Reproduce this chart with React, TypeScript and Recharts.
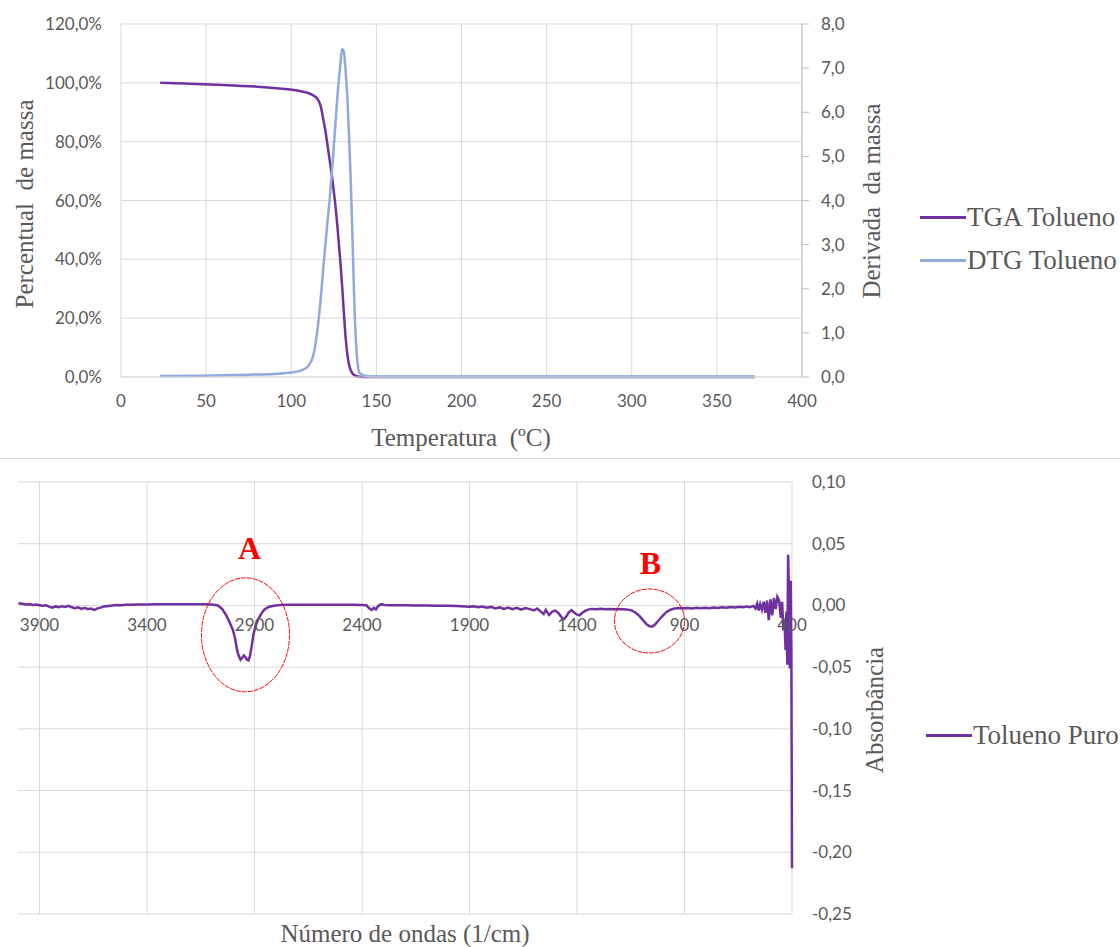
import React from "react";
import { LineChart, Line, XAxis, YAxis, CartesianGrid, ReferenceDot, ReferenceLine } from "recharts";

// ---- TGA / DTG ----
const TEMP_TICKS = [0, 50, 100, 150, 200, 250, 300, 350, 400];
const MASS_TICKS = [0, 20, 40, 60, 80, 100, 120];
const DERIV_TICKS = [0, 1, 2, 3, 4, 5, 6, 7, 8];

// [temperatura °C, massa %]
const TGA_CURVE: [number, number][] = [
  [23, 100], [40, 99.7], [60, 99.3], [80, 98.7], [95, 98.0], [105, 97.2],
  [110, 96.5], [113, 95.7], [115, 94.8], [116, 94.0], [117, 92.6], [118, 90.2],
  [119, 87], [120, 84], [121, 80], [122, 76], [123, 72], [124, 68], [125, 63],
  [126, 58], [127, 52], [128, 45], [129, 38], [130, 30], [131, 21], [132, 13],
  [133, 7.5], [134, 4], [135, 2.2], [136, 1.2], [138, 0.4], [140, 0.1],
  [145, 0], [200, 0], [250, 0], [300, 0], [350, 0], [372, 0],
];

// [temperatura °C, derivada]
const DTG_CURVE: [number, number][] = [
  [23, 0.02], [50, 0.03], [75, 0.05], [90, 0.07], [100, 0.1], [106, 0.15],
  [110, 0.25], [113, 0.5], [115, 0.95], [117, 1.65], [119, 2.55], [121, 3.4],
  [122.5, 4.0], [124, 4.7], [125.5, 5.5], [127, 6.3], [128.5, 6.95], [130, 7.43],
  [131, 7.35], [132, 6.9], [133, 6.3], [134, 5.4], [135, 4.4], [136, 3.1],
  [137, 1.75], [138, 0.8], [139, 0.3], [140, 0.1], [143, 0.03], [150, 0.01],
  [200, 0.01], [250, 0.01], [300, 0.01], [350, 0.01], [372, 0.01],
];

// ---- FTIR ----
const WAVE_TICKS = [3900, 3400, 2900, 2400, 1900, 1400, 900, 400];
const ABS_TICKS = [0.1, 0.05, 0, -0.05, -0.1, -0.15, -0.2, -0.25];

// [número de ondas 1/cm, absorbância]
const FTIR_SPECTRUM: [number, number][] = [
  [3998, 0.002], [3990, 0.0015], [3975, 0.0012], [3960, 0.0008], [3945, 0.001],
  [3930, 0.0004], [3915, 0.0007], [3900, 0.0002], [3885, -0.0003], [3870, 0.0001],
  [3855, -0.001], [3840, -0.0018], [3825, -0.0008], [3810, -0.0014], [3795, -0.0006],
  [3780, -0.0012], [3765, -0.0004], [3750, -0.0015], [3735, -0.0022], [3720, -0.0016],
  [3705, -0.0028], [3690, -0.002], [3675, -0.003], [3660, -0.0026], [3645, -0.0037],
  [3630, -0.0024], [3615, -0.0018], [3600, -0.0008], [3580, -0.0004], [3560, 0],
  [3540, 0.0003], [3520, 0.0001], [3500, 0.0005], [3470, 0.0006], [3440, 0.0008],
  [3400, 0.0008], [3360, 0.0009], [3320, 0.001], [3280, 0.001], [3240, 0.001],
  [3200, 0.001], [3160, 0.001], [3120, 0.0009], [3090, 0.0006], [3070, 0],
  [3050, -0.003], [3030, -0.0085], [3015, -0.014], [3000, -0.02], [2990, -0.027],
  [2980, -0.037], [2972, -0.0415], [2965, -0.044], [2958, -0.0425], [2950, -0.0405],
  [2942, -0.042], [2935, -0.044], [2928, -0.0445], [2921, -0.041], [2912, -0.032],
  [2905, -0.0235], [2895, -0.0165], [2885, -0.012], [2870, -0.007], [2855, -0.0035],
  [2835, -0.0012], [2810, -0.0002], [2780, 0.0003], [2740, 0.0005], [2700, 0.0005],
  [2650, 0.0006], [2600, 0.0006], [2550, 0.0005], [2500, 0.0006], [2450, 0.0005],
  [2400, 0.0004], [2380, 0.0001], [2365, -0.0025], [2355, -0.0037], [2345, -0.002],
  [2335, -0.0032], [2325, -0.0005], [2310, 0.001], [2295, 0.0004], [2270, 0.0002],
  [2230, 0.0002], [2190, 0.0001], [2150, 0], [2100, 0], [2050, -0.0002],
  [2000, -0.0003], [1960, -0.0005], [1920, -0.0008], [1900, -0.001], [1880, -0.0006],
  [1860, -0.0014], [1840, -0.0009], [1820, -0.0018], [1800, -0.0012], [1780, -0.0024],
  [1760, -0.0015], [1740, -0.0028], [1720, -0.0018], [1700, -0.003], [1680, -0.002],
  [1660, -0.0034], [1640, -0.0022], [1620, -0.003], [1600, -0.004], [1585, -0.0025],
  [1570, -0.0048], [1555, -0.007], [1545, -0.0035], [1530, -0.0078], [1515, -0.005],
  [1500, -0.0042], [1485, -0.0065], [1470, -0.01], [1460, -0.011], [1450, -0.009],
  [1440, -0.006], [1426, -0.0038], [1415, -0.0055], [1400, -0.0075], [1388, -0.008],
  [1375, -0.006], [1360, -0.0042], [1345, -0.0032], [1330, -0.0028], [1310, -0.003],
  [1290, -0.0027], [1270, -0.0031], [1250, -0.0028], [1230, -0.003], [1210, -0.0028],
  [1190, -0.003], [1170, -0.0032], [1150, -0.0038], [1130, -0.0055], [1110, -0.0085],
  [1090, -0.0125], [1075, -0.0155], [1062, -0.017], [1052, -0.0172], [1040, -0.016],
  [1025, -0.013], [1005, -0.009], [985, -0.0055], [965, -0.0035], [945, -0.0024],
  [925, -0.002], [905, -0.0022], [885, -0.002], [865, -0.0025], [845, -0.0019],
  [825, -0.0023], [805, -0.0018], [785, -0.0022], [765, -0.0016], [745, -0.002],
  [725, -0.0014], [705, -0.0018], [685, -0.0012], [665, -0.0016], [645, -0.001],
  [625, -0.0015], [610, -0.0008], [595, -0.0014], [580, -0.0004], [570, -0.0025],
  [562, 0.0015], [555, -0.004], [548, 0.001], [540, -0.0035], [532, 0.003],
  [524, -0.006], [516, 0.004], [508, -0.012], [500, 0.005], [492, -0.008],
  [484, 0.006], [476, -0.003], [468, 0.007], [460, 0.004], [452, -0.01],
  [446, 0.003], [440, -0.02], [435, -0.012], [430, -0.036], [426, -0.005],
  [422, -0.048], [418, 0.041], [414, 0.01], [410, -0.051], [406, 0.02],
  [403, -0.04], [400, -0.213],
];

const PEAK_LABELS = ["A", "B"];
const PEAK_WAVE = [2942, 1063];
const PEAK_ABS = [-0.0238, -0.0126];
const PEAK_LABEL_WAVE = [2923, 1058];
const PEAK_LABEL_ABS = [0.0468, 0.0346];

// ---- styles / layout ----
const W = 1120;
const TOP_H = 458;
const BOT_H = 489;
const PURPLE = "#7030A0";
const BLUE = "#8FAADC";
const GRID = "#d9d9d9";
const TXT = "#595959";
const SANS = "Lato, 'Open Sans', sans-serif";
const SERIF = "'Liberation Serif', 'DejaVu Serif', serif";
const NB = "\u00a0";

const tgaData = TGA_CURVE.map(([t, v]) => ({ t, v }));
const dtgData = DTG_CURVE.map(([t, v]) => ({ t, v }));
const ftirData = FTIR_SPECTRUM.map(([w, a]) => ({ w, a }));

const comma = (v: number, d: number) => v.toFixed(d).replace(".", ",");

const FTIR_MIN = -0.25;
const FTIR_MAX = 0.1;
const FTIR_PLOT_H = 432;
const zeroFromBottom = (FTIR_PLOT_H * (0 - FTIR_MIN)) / (FTIR_MAX - FTIR_MIN);

const ZeroLineTick = (props: any) => {
  const { x, y, payload } = props;
  return (
    <text x={x} y={y - zeroFromBottom + 26} textAnchor="middle" fill={TXT} fontSize={17} fontFamily={SANS}>
      {payload.value}
    </text>
  );
};

const vTitle = (text: string, x: number, y: number) => () => (
  <text
    x={x}
    y={y}
    transform={`rotate(-90, ${x}, ${y})`}
    textAnchor="middle"
    fill={TXT}
    fontSize={25}
    fontFamily={SERIF}
  >
    {text}
  </text>
);

const hTitle = (text: string, x: number, y: number) => () => (
  <text x={x} y={y} textAnchor="middle" fill={TXT} fontSize={25} fontFamily={SERIF}>
    {text}
  </text>
);

const LegendRow = ({ color, label, top, left }: { color: string; label: string; top: number; left: number }) => (
  <div style={{ position: "absolute", top: top - 16, left, display: "flex", alignItems: "center", height: 32 }}>
    <div style={{ width: 46, height: 3, background: color }} />
    <span style={{ fontFamily: SERIF, fontSize: 27, color: TXT, marginLeft: 1, whiteSpace: "nowrap" }}>{label}</span>
  </div>
);

const tickStyle = { fill: TXT, fontSize: 17, fontFamily: SANS };

export default function App() {
  return (
    <div style={{ position: "absolute", left: 0, top: 0, width: W, height: TOP_H + BOT_H, background: "#fff", overflow: "hidden" }}>
      <LineChart width={W} height={TOP_H} margin={{ top: 24, left: 0, right: 218, bottom: 11 }}>
        <CartesianGrid stroke={GRID} yAxisId="mass" />
        <XAxis
          dataKey="t"
          type="number"
          domain={[0, 400]}
          ticks={TEMP_TICKS}
          height={70}
          axisLine={{ stroke: GRID }}
          tickLine={false}
          tickSize={0}
          tickMargin={18}
          tick={tickStyle}
          label={{ content: hTitle(`Temperatura${NB} (ºC)`, 461, 446) }}
        />
        <YAxis
          yAxisId="mass"
          width={121}
          domain={[0, 120]}
          ticks={MASS_TICKS}
          axisLine={false}
          tickLine={false}
          tickSize={0}
          tickMargin={19}
          tick={tickStyle}
          tickFormatter={(v: number) => `${comma(v, 1)}%`}
          label={{ content: vTitle(`Percentual${NB} de massa`, 33, 204) }}
        />
        <YAxis
          yAxisId="deriv"
          orientation="right"
          width={100}
          domain={[0, 8]}
          ticks={DERIV_TICKS}
          axisLine={{ stroke: "#bfbfbf" }}
          tickLine={{ stroke: "#bfbfbf" }}
          tickSize={7}
          tickMargin={12}
          tick={tickStyle}
          tickFormatter={(v: number) => comma(v, 1)}
          label={{ content: vTitle(`Derivada${NB} da massa`, 880, 201) }}
        />
        <Line
          yAxisId="mass"
          data={tgaData}
          dataKey="v"
          type="monotone"
          stroke={PURPLE}
          strokeWidth={2.5}
          dot={false}
          isAnimationActive={false}
        />
        <Line
          yAxisId="deriv"
          data={dtgData}
          dataKey="v"
          type="monotone"
          stroke={BLUE}
          strokeWidth={2.5}
          dot={false}
          isAnimationActive={false}
        />
      </LineChart>
      <LegendRow color={PURPLE} label="TGA Tolueno" top={217} left={920} />
      <LegendRow color={BLUE} label="DTG Tolueno" top={260} left={920} />

      <div style={{ position: "absolute", left: 0, top: TOP_H, width: W, borderTop: "1px solid #d9d9d9" }} />

      <div style={{ position: "absolute", left: 0, top: TOP_H }}>
        <LineChart width={W} height={BOT_H} margin={{ top: 24, left: 18, right: 218, bottom: 0 }}>
          {ABS_TICKS.map((v) => (
            <ReferenceLine key={`hg-${v}`} yAxisId="abs" y={v} stroke={GRID} />
          ))}
          {WAVE_TICKS.map((t) => (
            <ReferenceLine key={`vg-${t}`} yAxisId="abs" x={t} stroke={GRID} />
          ))}
          <XAxis
            dataKey="w"
            type="number"
            domain={[400, 4000]}
            reversed
            ticks={WAVE_TICKS}
            height={33}
            axisLine={false}
            tickLine={false}
            tickSize={0}
            tickMargin={0}
            tick={<ZeroLineTick />}
            label={{ content: hTitle("Número de ondas (1/cm)", 405, 484) }}
          />
          <YAxis
            yAxisId="abs"
            orientation="right"
            width={110}
            domain={[FTIR_MIN, FTIR_MAX]}
            ticks={ABS_TICKS}
            axisLine={false}
            tickLine={false}
            tickSize={0}
            tickMargin={20}
            tick={tickStyle}
            tickFormatter={(v: number) => comma(v, 2)}
            label={{ content: vTitle("Absorbância", 883, 252) }}
          />
          <Line
            yAxisId="abs"
            data={ftirData}
            dataKey="a"
            type="linear"
            stroke={PURPLE}
            strokeWidth={2.5}
            dot={false}
            isAnimationActive={false}
          />
          {PEAK_LABELS.map((name, i) => (
            <ReferenceDot
              key={`ring-${name}`}
              yAxisId="abs"
              x={PEAK_WAVE[i]}
              y={PEAK_ABS[i]}
              r={1}
              shape={(p: any) => (
                <ellipse
                  cx={p.cx}
                  cy={p.cy}
                  rx={i === 0 ? 44 : 35}
                  ry={i === 0 ? 57 : 32}
                  fill="none"
                  stroke="#ff0000"
                  strokeWidth={1}
                  strokeDasharray="5 1"
                />
              )}
            />
          ))}
          {PEAK_LABELS.map((name, i) => (
            <ReferenceDot
              key={`tag-${name}`}
              yAxisId="abs"
              x={PEAK_LABEL_WAVE[i]}
              y={PEAK_LABEL_ABS[i]}
              r={1}
              shape={(p: any) => (
                <text
                  x={p.cx}
                  y={p.cy + 11}
                  textAnchor="middle"
                  fill="#ff0000"
                  fontWeight="bold"
                  fontSize={32}
                  fontFamily={SERIF}
                >
                  {name}
                </text>
              )}
            />
          ))}
        </LineChart>
      </div>
      <LegendRow color={PURPLE} label="Tolueno Puro" top={735} left={926} />
    </div>
  );
}
